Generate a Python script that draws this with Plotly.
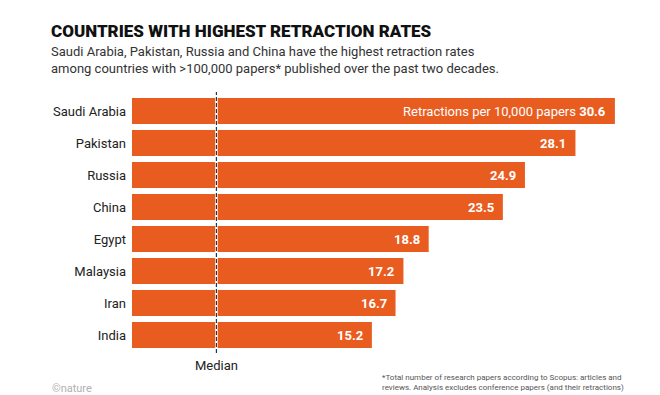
import plotly.graph_objects as go

countries = ["Saudi Arabia", "Pakistan", "Russia", "China", "Egypt", "Malaysia", "Iran", "India"]
rates = [30.6, 28.1, 24.9, 23.5, 18.8, 17.2, 16.7, 15.2]
median_value = 5.35

title_text = "COUNTRIES WITH HIGHEST RETRACTION RATES"
subtitle_text = ("Saudi Arabia, Pakistan, Russia and China have the highest retraction rates<br>"
                 "among countries with >100,000 papers* published over the past two decades.")
footnote_text = ("*Total number of research papers according to Scopus: articles and<br>"
                 "reviews. Analysis excludes conference papers (and their retractions)")
value_prefix = "Retractions per 10,000 papers "

# the page body has an 8px margin; the figure is sized so it fills the window exactly
OFF = 8
W, H = 660 - OFF, 395 - OFF
# target window-pixel geometry
PLOT_LEFT, PLOT_RIGHT, PLOT_TOP, PLOT_BOTTOM = 132, 637, 95, 351
L, R, T, B = PLOT_LEFT - OFF, 660 - PLOT_RIGHT, PLOT_TOP - OFF, 395 - PLOT_BOTTOM
PW, PH = PLOT_RIGHT - PLOT_LEFT, PLOT_BOTTOM - PLOT_TOP

def px(x):
    return (x - PLOT_LEFT) / PW

def py(y):
    return (PLOT_BOTTOM - y) / PH

ORANGE = "#E95C20"
FONT = "Roboto, Arial, sans-serif"

fig = go.Figure()
fig.add_trace(go.Bar(
    y=countries, x=rates, orientation="h",
    marker=dict(color=ORANGE, line=dict(width=0)),
    width=0.81, hoverinfo="skip",
))

annotations = []
for i, (c, v) in enumerate(zip(countries, rates)):
    label = f"<b>{v}</b>"
    if i == 0:
        label = value_prefix + label
    annotations.append(dict(
        x=v, y=c, xref="x", yref="y", text=label, showarrow=False,
        xanchor="right", yanchor="middle", xshift=-7,
        font=dict(family=FONT, size=13, color="white"),
    ))

annotations += [
    dict(x=px(49), y=py(30.5), xref="paper", yref="paper", text=title_text,
         showarrow=False, xanchor="left", yanchor="middle",
         font=dict(family="Roboto, sans-serif", size=17, color="#111", weight=900)),
    dict(x=px(49), y=py(60), xref="paper", yref="paper", text=subtitle_text,
         showarrow=False, xanchor="left", yanchor="middle", align="left",
         font=dict(family=FONT, size=13, color="#333")),
    dict(x=median_value, y=py(365), xref="x", yref="paper", text="Median",
         showarrow=False, xanchor="center", yanchor="middle",
         font=dict(family=FONT, size=13, color="#222")),
    dict(x=px(380), y=py(382.5), xref="paper", yref="paper", text=footnote_text,
         showarrow=False, xanchor="left", yanchor="middle", align="left",
         font=dict(family=FONT, size=8, color="#555")),
    dict(x=px(50), y=py(388.5), xref="paper", yref="paper", text="©nature",
         showarrow=False, xanchor="left", yanchor="middle",
         font=dict(family=FONT, size=11, color="#b0b0b0")),
]

shapes = [
    dict(type="line", xref="x", yref="paper", x0=median_value, x1=median_value,
         y0=py(353), y1=py(92), line=dict(color="white", width=2.5), layer="above"),
    dict(type="line", xref="x", yref="paper", x0=median_value, x1=median_value,
         y0=py(353), y1=py(92), line=dict(color="#2b3340", width=1.2, dash="4px,2px"), layer="above"),
]

fig.update_layout(
    width=W, height=H,
    margin=dict(l=L, r=R, t=T, b=B, pad=0),
    paper_bgcolor="white", plot_bgcolor="white",
    showlegend=False,
    xaxis=dict(range=[0, 32], visible=False, fixedrange=True),
    yaxis=dict(categoryorder="array", categoryarray=countries, autorange="reversed",
               showgrid=False, zeroline=False, showline=False, ticks="",
               ticklabelstandoff=5,
               tickfont=dict(family=FONT, size=13, color="#222"), fixedrange=True),
    annotations=annotations,
    shapes=shapes,
)

fig.write_html("out.html", config={"displayModeBar": False})
